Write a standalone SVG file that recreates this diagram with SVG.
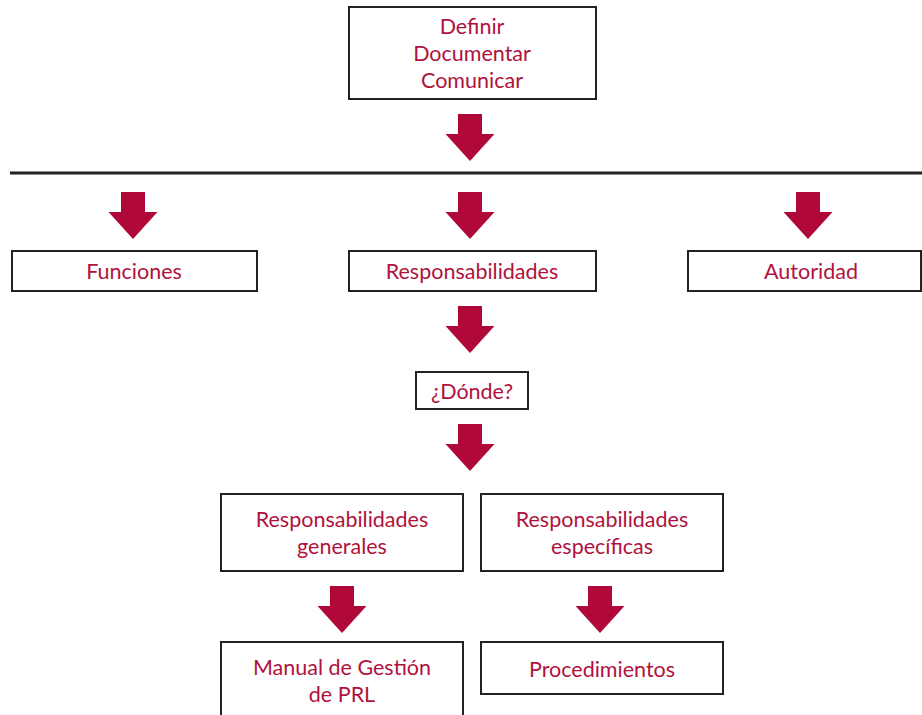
<svg xmlns="http://www.w3.org/2000/svg" width="922" height="715" viewBox="0 0 922 715">
<style>
.box{fill:#fff;stroke:#222;stroke-width:2}
.t{font-family:"Lato","Liberation Sans",sans-serif;font-size:21.5px;fill:#b0123c;text-anchor:middle}
.arr{fill:#b00838}
</style>
<defs>
<path id="a" d="M-12,0 H12 V20 H24.5 L0,47 L-24.5,20 H-12 Z"/>
</defs>
<rect width="922" height="715" fill="#fff"/>
<g id="connectors">
<use href="#a" class="arr" x="470" y="114"/>
<line x1="10" y1="173" x2="922" y2="173" stroke="#222" stroke-width="3"/>
<use href="#a" class="arr" x="133" y="192"/>
<use href="#a" class="arr" x="470" y="192"/>
<use href="#a" class="arr" x="808" y="192"/>
<use href="#a" class="arr" x="470" y="306"/>
<use href="#a" class="arr" x="470" y="424"/>
<use href="#a" class="arr" x="342" y="586"/>
<use href="#a" class="arr" x="600" y="586"/>
</g>
<g id="n-definir">
<rect class="box" x="349" y="7" width="247" height="92"/>
<text class="t" x="472" y="34">Definir</text>
<text class="t" x="472" y="61">Documentar</text>
<text class="t" x="472" y="88">Comunicar</text>
</g>
<g id="n-funciones">
<rect class="box" x="12" y="251" width="245" height="40"/>
<text class="t" x="134" y="279">Funciones</text>
</g>
<g id="n-responsabilidades">
<rect class="box" x="349" y="251" width="247" height="40"/>
<text class="t" x="472" y="279">Responsabilidades</text>
</g>
<g id="n-autoridad">
<rect class="box" x="688" y="251" width="233" height="40"/>
<text class="t" x="811" y="279">Autoridad</text>
</g>
<g id="n-donde">
<rect class="box" x="416" y="372" width="112" height="37"/>
<text class="t" x="472" y="399">¿Dónde?</text>
</g>
<g id="n-generales">
<rect class="box" x="221" y="494" width="242" height="77"/>
<text class="t" x="342" y="527">Responsabilidades</text>
<text class="t" x="342" y="554">generales</text>
</g>
<g id="n-especificas">
<rect class="box" x="481" y="494" width="242" height="77"/>
<text class="t" x="602" y="527">Responsabilidades</text>
<text class="t" x="602" y="554">específicas</text>
</g>
<g id="n-manual">
<rect class="box" x="221" y="642" width="242" height="80"/>
<text class="t" x="342" y="675">Manual de Gestión</text>
<text class="t" x="342" y="702">de PRL</text>
</g>
<g id="n-procedimientos">
<rect class="box" x="481" y="642" width="242" height="52"/>
<text class="t" x="602" y="677">Procedimientos</text>
</g>
</svg>
